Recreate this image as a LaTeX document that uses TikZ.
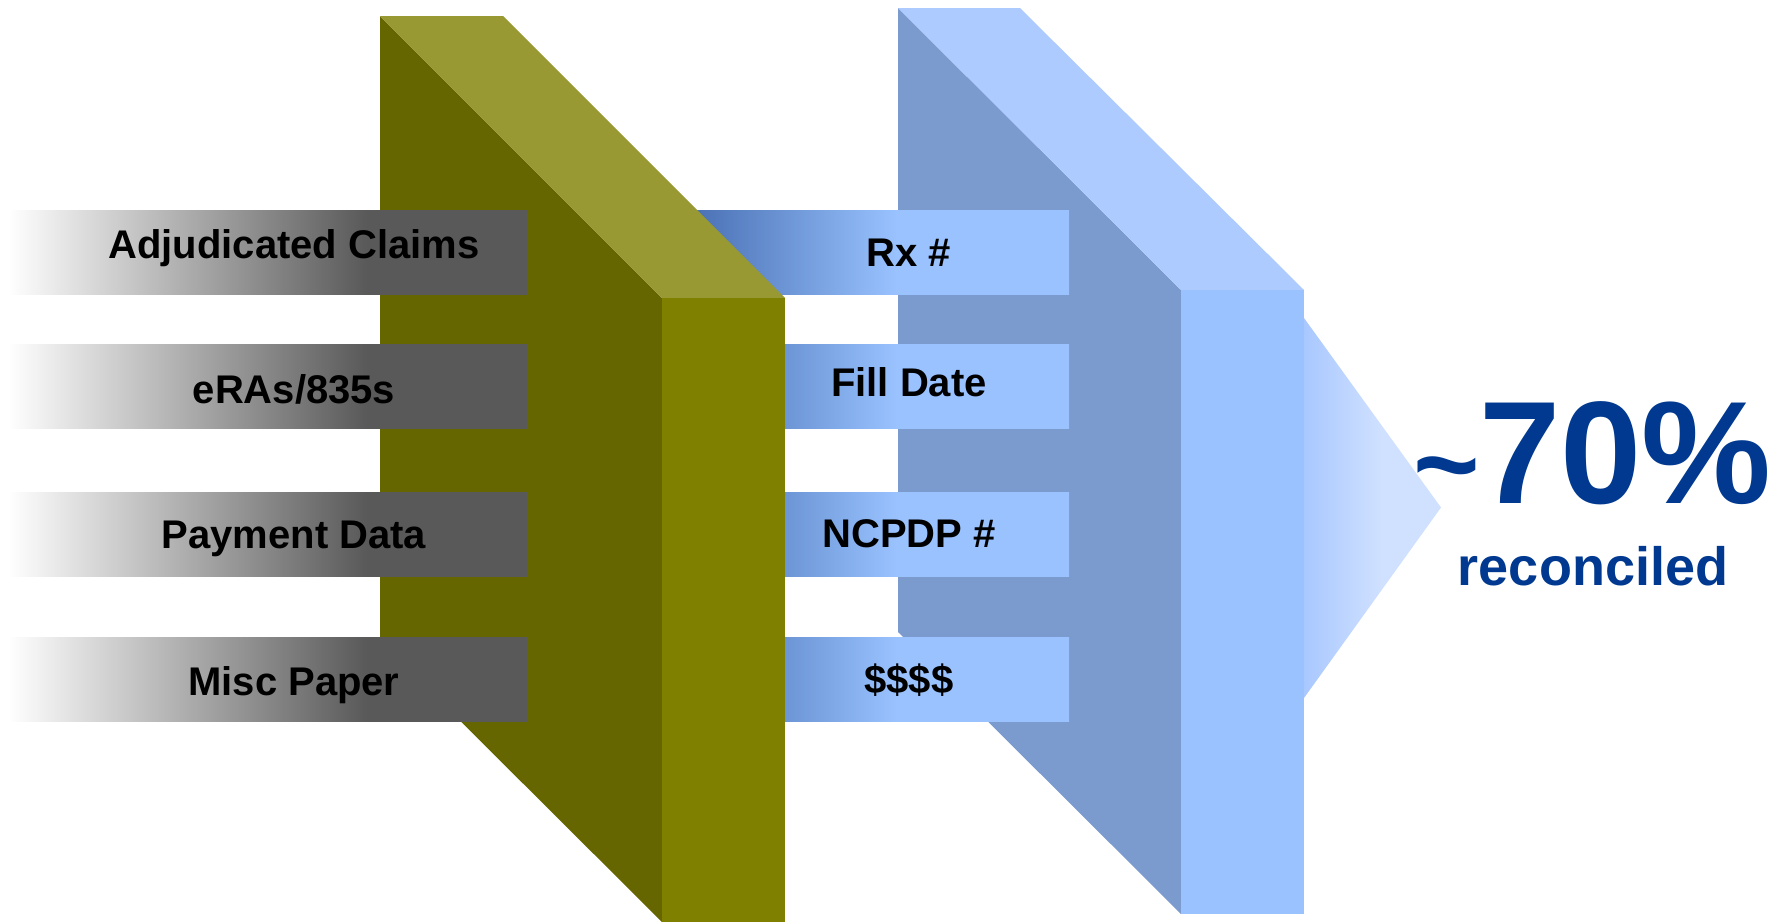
\documentclass[tikz,border=0pt]{standalone}
\usepackage{fontspec}
\setmainfont{Liberation Sans}
\definecolor{olivetop}{RGB}{153,153,51}
\definecolor{oliveleft}{RGB}{102,102,0}
\definecolor{olivefront}{RGB}{128,128,0}
\definecolor{blueleft}{RGB}{123,155,207}
\definecolor{bluetop}{RGB}{173,203,255}
\definecolor{bluefront}{RGB}{153,194,255}
\definecolor{bardark}{RGB}{74,114,181}
\definecolor{barlight}{RGB}{153,194,255}
\definecolor{bargray}{RGB}{89,89,89}
\definecolor{arrowa}{RGB}{169,200,255}
\definecolor{arrowb}{RGB}{208,225,255}
\definecolor{pctblue}{RGB}{0,57,143}
\pgfdeclarehorizontalshading{grayshade}{100bp}{color(0bp)=(white); color(25bp)=(white); color(59.6bp)=(bargray); color(100bp)=(bargray)}
\pgfdeclarehorizontalshading{blueshade}{100bp}{color(0bp)=(bardark); color(25bp)=(bardark); color(51.9bp)=(barlight); color(100bp)=(barlight)}
\pgfdeclarehorizontalshading{arrowshade}{100bp}{color(0bp)=(arrowa); color(25bp)=(arrowa); color(53.5bp)=(arrowb); color(100bp)=(arrowb)}
\begin{document}
\begin{tikzpicture}[x=1pt,y=-1pt,
  graybar/.style={minimum width=519pt, minimum height=84pt, inner sep=0pt, outer sep=0pt, shade, shading=grayshade},
  bluebar/.style={minimum width=372pt, minimum height=84pt, inner sep=0pt, outer sep=0pt, shade, shading=blueshade},
  barlabel/.style={anchor=base, inner sep=0pt, font=\fontsize{40}{48}\selectfont\bfseries, text=black},
  pcttext/.style={inner sep=0pt, text=pctblue, font=\bfseries}]
\useasboundingbox (0,0) rectangle (1781,922);
% blue block
\fill[blueleft] (898,8) -- (1181,290) -- (1181,914) -- (898,632) -- cycle;
\fill[bluetop] (898,8) -- (1020,8) -- (1304,290) -- (1181,290) -- cycle;
\fill[bluefront] (1181,290) rectangle (1304,914);
\shade[shading=arrowshade] (1304,318) -- (1441,507.5) -- (1304,698) -- cycle;
% blue bars
\node[bluebar] (r1) at (883,252.5) {};
\node[bluebar] (r2) at (883,386) {};
\node[bluebar] (r3) at (883,534) {};
\node[bluebar] (r4) at (883,679) {};
% olive block
\fill[oliveleft] (380,16) -- (662,298) -- (662,922) -- (380,641) -- cycle;
\fill[olivetop] (380,16) -- (503,16) -- (785,298) -- (662,298) -- cycle;
\fill[olivefront] (662,298) rectangle (785,922);
% gray bars
\node[graybar] (g1) at (267.5,252.5) {};
\node[graybar] (g2) at (267.5,386) {};
\node[graybar] (g3) at (267.5,534) {};
\node[graybar] (g4) at (267.5,679) {};
% labels
\node[barlabel] (tg1) at (294,258) {Adjudicated Claims};
\node[barlabel] (tg2) at (294,403) {eRAs/835s};
\node[barlabel] (tg3) at (294,548) {Payment Data};
\node[barlabel] (tg4) at (294,695) {Misc Paper};
\node[barlabel] (tr1) at (909,266) {Rx \#};
\node[barlabel] (tr2) at (909,396) {Fill Date};
\node[barlabel] (tr3) at (909,547) {NCPDP \#};
\node[barlabel] (tr4) at (909,693) {\$\$\$\$};
% result
\node[pcttext, anchor=base east] (pct) at (1772,503) {{\fontsize{114}{114}\selectfont\textasciitilde}\fontsize{146}{146}\selectfont 70\%};
\node[pcttext, anchor=base, font=\fontsize{54}{60}\selectfont\bfseries] (rec) at (1593,585) {reconciled};
\end{tikzpicture}
\end{document}
